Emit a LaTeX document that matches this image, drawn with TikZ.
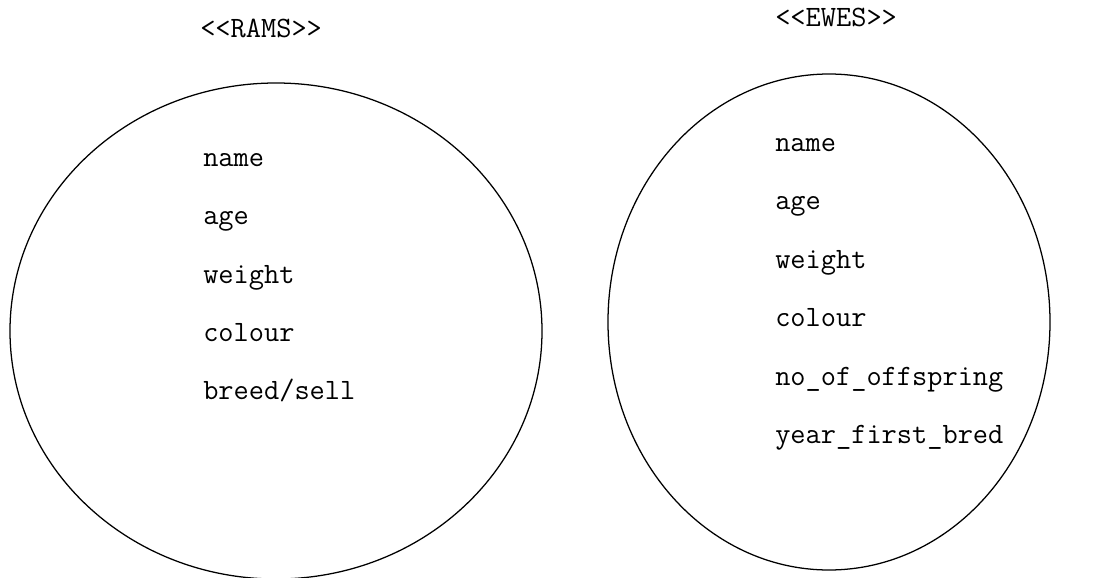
\documentclass[tikz,border=0pt]{standalone}
\usepackage{tikz}

\tikzset{
  attr/.style={anchor=base west, inner sep=0pt, font=\fontsize{21}{25}\selectfont\ttfamily},
  entity/.style={line width=0.9pt}
}

\begin{document}
\begin{tikzpicture}[x=0.025cm, y=-0.025cm]
  \useasboundingbox (0,0) rectangle (1100,578);

  % --- RAMS ---
  \node[attr] (ramtitle) at (200, 38) {<{}<RAMS>{}>};
  \draw[entity] (276, 331) ellipse [x radius=266, y radius=248];
  \node[attr] (ramname)   at (203, 166) {name};
  \node[attr] (ramage)    at (203, 224) {age};
  \node[attr] (ramweight) at (203, 283) {weight};
  \node[attr] (ramcolour) at (203, 341) {colour};
  \node[attr] (rambreed)  at (203, 399) {breed/sell};

  % --- EWES ---
  \node[attr] (ewetitle) at (775, 27) {<{}<EWES>{}>};
  \draw[entity] (829, 322) ellipse [x radius=221, y radius=248];
  \node[attr] (ewename)   at (775, 151) {name};
  \node[attr] (eweage)    at (775, 209) {age};
  \node[attr] (eweweight) at (775, 268) {weight};
  \node[attr] (ewecolour) at (775, 326) {colour};
  \node[attr] (eweoffspr) at (775, 385) {no\_of\_offspring};
  \node[attr] (ewebred)   at (775, 443) {year\_first\_bred};
\end{tikzpicture}
\end{document}
